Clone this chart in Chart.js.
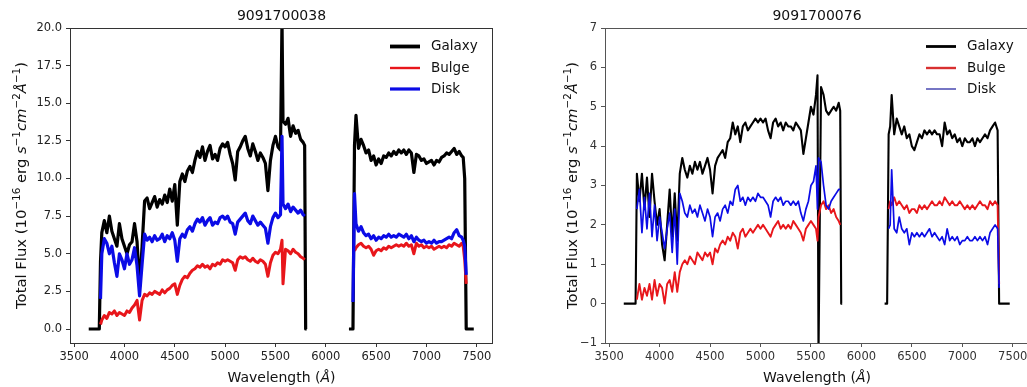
<!DOCTYPE html>
<html><head><meta charset="utf-8">
<script src="https://cdn.jsdelivr.net/npm/chart.js@4"></script>
<style>
html,body{margin:0;padding:0;background:#fff;overflow:hidden;width:1027px;height:387px;position:relative;}
#c1{position:absolute;left:0;top:0;}
#c2{position:absolute;left:515px;top:0;}
</style></head><body>
<canvas id="c1" width="515" height="387"></canvas>
<canvas id="c2" width="540" height="387"></canvas>
<script>
// ---------- DATA ----------
const panelTitles = ['9091700038', '9091700076'];
const seriesNames = ['Galaxy', 'Bulge', 'Disk'];
const xTicks = [3500, 4000, 4500, 5000, 5500, 6000, 6500, 7000, 7500];
const yTicksLeft = [0, 2.5, 5, 7.5, 10, 12.5, 15, 17.5, 20];
const yTicksRight = [-1, 0, 1, 2, 3, 4, 5, 6, 7];

const wavelength = [
  3645, 3700, 3750, 3762,
  3775, 3800, 3825, 3850, 3875, 3900, 3925, 3950, 3975, 4000,
  4025, 4050, 4075, 4100, 4125, 4150, 4175, 4200, 4225, 4250,
  4275, 4300, 4325, 4350, 4375, 4400, 4425, 4450, 4475, 4500,
  4525, 4550, 4575, 4600, 4625, 4650, 4675, 4700, 4725, 4750,
  4775, 4800, 4825, 4850, 4875, 4900, 4925, 4950, 4975, 5000,
  5025, 5050, 5075, 5100, 5125, 5150, 5175, 5200, 5225, 5250,
  5275, 5300, 5325, 5350, 5375, 5400, 5425, 5450, 5475, 5500,
  5525, 5550, 5565, 5575, 5600, 5625, 5650, 5675, 5700, 5725,
  5750, 5775, 5790, 5800, 5810,
  6000,
  6230, 6255, 6270, 6285,
  6300, 6325, 6350, 6375, 6400, 6425, 6450, 6475, 6500, 6525,
  6550, 6575, 6600, 6625, 6650, 6675, 6700, 6725, 6750, 6775,
  6800, 6825, 6850, 6875, 6900, 6925, 6950, 6975, 7000, 7025,
  7050, 7075, 7100, 7125, 7150, 7175, 7200, 7225, 7250, 7275,
  7300, 7325, 7350,
  7365, 7380, 7395, 7410, 7470
];

// Panel 1 (9091700038)
const galaxy1 = [
  0, 0, 0, 4.5,
  6.4, 7.2, 6.4, 7.5, 6.5, 6.0, 5.5, 7.0, 6.0, 5.5,
  5.0, 5.6, 5.8, 7.0, 5.8, 2.8, 5.5, 8.5, 8.7, 8.0,
  8.4, 8.8, 8.1, 8.6, 8.3, 8.9, 8.4, 9.3, 8.5, 9.6,
  6.9, 9.8, 10.3, 9.8, 10.5, 10.8, 10.4, 11.2, 11.8, 11.4,
  12.1, 11.2, 11.8, 12.2, 11.3, 11.6, 11.2, 12.0, 12.3, 12.1,
  12.4, 11.6, 11.0, 9.9, 11.8, 12.1, 12.5, 12.8, 12.0, 11.5,
  12.3, 11.8, 11.2, 11.7, 11.4, 11.0, 9.2, 11.2, 12.2, 12.8,
  12.1, 11.9, 20.5, 13.8, 13.6, 14.0, 12.8, 13.5, 13.0, 13.2,
  12.6, 12.4, 12.2, 0, 0,
  null,
  0, 0, 0, 12.2,
  14.2, 12.0, 12.6, 12.2, 11.7, 11.9, 11.2, 11.5, 10.9, 11.3,
  11.0, 11.5, 11.4, 11.7, 11.5, 11.8, 11.6, 11.9, 11.7, 11.9,
  11.6, 11.9, 11.7, 10.4, 11.6, 11.5, 11.2, 11.3, 11.0, 11.1,
  11.2, 10.9, 11.2, 11.1, 11.4, 11.5, 11.7, 11.6, 11.8, 12.0,
  11.6, 11.8, 11.5,
  11.4, 10.0, 0, 0, 0
];
const bulge1 = [
  null, null, null, 0.3,
  0.6, 0.9, 0.7, 1.1, 1.0, 1.2, 0.9, 1.1, 1.0, 0.9,
  1.2, 1.1, 1.4, 1.6, 1.9, 0.6, 1.9, 2.3, 2.2, 2.4,
  2.3, 2.5, 2.4, 2.3, 2.6, 2.4, 2.6, 2.7, 2.9, 3.0,
  2.3, 2.9, 3.3, 3.5, 3.4, 3.7, 3.9, 4.0, 4.2, 4.1,
  4.3, 4.1, 4.2, 4.0, 4.3, 4.2, 4.4, 4.3, 4.6, 4.5,
  4.6, 4.5, 4.4, 3.9, 4.6, 4.8, 4.7, 4.8, 4.6, 4.5,
  4.7, 4.5, 4.4, 4.6, 4.5, 4.3, 3.5, 4.4, 4.9, 5.1,
  5.0, 5.3, 5.9, 3.0, 5.3, 5.2, 5.0, 5.3, 5.1, 5.0,
  4.8, 4.7, 4.6, null, null,
  null,
  null, null, null, 5.2,
  5.4, 5.6, 5.7, 5.5, 5.4, 5.5, 5.3, 4.9, 5.2, 5.3,
  5.2, 5.4, 5.3, 5.5, 5.4, 5.5, 5.6, 5.5, 5.6, 5.5,
  5.7, 5.5, 5.6, 5.0, 5.7, 5.5, 5.6, 5.4, 5.5, 5.4,
  5.5, 5.3, 5.4, 5.5, 5.4, 5.5, 5.4, 5.6, 5.5, 5.7,
  5.6, 5.5, 5.7,
  5.5, 4.6, 3.0, null, null
];
const disk1 = [
  null, null, null, 2.0,
  5.0, 6.0, 5.7, 5.0, 5.5, 4.4, 3.5, 5.0, 4.6, 4.0,
  5.0, 4.3, 4.6, 5.4, 4.2, 2.2, 4.3, 6.3, 5.9, 6.1,
  5.8, 6.2, 5.9, 6.0, 6.3, 5.8, 6.2, 6.0, 6.4, 5.9,
  4.5, 6.0, 6.3, 6.1, 6.6, 6.8, 6.5, 7.0, 7.3, 7.1,
  7.4, 6.9, 7.2, 7.4, 6.9, 7.1, 7.0, 7.4, 7.5, 7.3,
  7.5, 7.1, 7.0, 6.3, 7.1, 7.3, 7.5, 7.7, 7.2, 7.0,
  7.5, 7.2, 6.9, 7.1, 6.9, 6.7, 5.7, 6.8, 7.4, 7.7,
  7.4, 7.6, 12.8, 8.3, 8.0, 8.3, 7.8, 8.1, 7.9, 7.7,
  7.9, 7.6, 7.5, null, null,
  null,
  null, null, 1.8, 9.0,
  7.0, 6.5, 6.8, 6.4, 6.2, 6.3, 6.0, 6.2, 5.9, 6.1,
  6.0, 6.2, 6.1, 6.3, 6.1, 6.2, 6.1, 6.3, 6.2, 6.1,
  6.3, 6.0, 6.2, 5.8, 6.1, 5.9, 5.8, 5.9, 5.7, 5.8,
  5.7, 5.9, 5.7, 5.8, 5.8, 5.9, 6.0, 6.1, 6.0, 6.4,
  6.6, 6.2, 6.1,
  5.9, 5.5, 3.6, null, null
];

// Panel 2 (9091700076)
const galaxy2 = [
  0, 0, 0, 0,
  3.3, 2.6, 3.3, 2.4, 3.2, 2.2, 3.3, 2.6, 2.0, 2.4,
  1.5, 1.1, 2.0, 2.9, 1.7, 2.8, 1.6, 3.3, 3.7, 3.4,
  3.2, 3.5, 3.3, 3.6, 3.4, 3.6, 3.3, 3.5, 3.7, 3.4,
  2.8, 3.5, 3.7, 3.8, 3.9, 3.7, 4.1, 4.2, 4.6, 4.3,
  4.5, 4.1, 4.5, 4.6, 4.4, 4.5, 4.6, 4.7, 4.6, 4.7,
  4.6, 4.7, 4.4, 4.2, 4.6, 4.7, 4.5, 4.6, 4.4, 4.6,
  4.5, 4.5, 4.4, 4.6, 4.5, 4.4, 3.8, 4.2, 4.6, 5.0,
  4.8, 5.3, 5.8, -1.3, 5.5, 5.3, 4.9, 4.8, 4.9, 5.0,
  4.9, 5.1, 4.9, 0, 0,
  null,
  0, 0, 4.3, 4.5,
  5.3, 4.3, 4.7, 4.5, 4.3, 4.5, 4.2, 4.3, 4.0, 3.9,
  4.1, 4.3, 4.2, 4.4, 4.3, 4.4, 4.3, 4.4, 4.3, 4.3,
  4.0, 4.6, 4.3, 4.4, 4.2, 4.3, 4.1, 4.2, 4.0, 4.2,
  4.1, 4.1, 4.2, 4.0, 4.2, 4.1, 4.2, 4.3, 4.2, 4.4,
  4.5, 4.6, 4.4,
  0, 0, 0, 0, 0
];
const bulge2 = [
  null, null, null, null,
  0.1, 0.5, 0.1, 0.4, 0.2, 0.5, 0.1, 0.6, 0.2, 0.5,
  0.4, 0.0, 0.5, 0.6, 0.3, 0.8, 0.3, 0.8, 1.0, 1.1,
  1.0, 1.2, 1.1, 1.0, 1.3, 1.2, 1.1, 1.3, 1.2, 1.3,
  1.0, 1.4, 1.3, 1.5, 1.6, 1.5, 1.7, 1.6, 1.8, 1.7,
  1.4, 1.8, 1.9, 1.7, 1.8, 1.9, 1.8, 1.9, 2.0, 1.9,
  2.0, 1.9, 1.8, 1.7, 1.9, 2.0, 2.1, 1.9, 2.0, 1.9,
  2.0, 1.9, 2.1, 2.0, 1.9, 1.8, 1.6, 1.9, 2.0, 2.1,
  2.0, 1.9, 1.6, 2.2, 2.5, 2.6, 2.4, 2.5, 2.3, 2.4,
  2.2, 2.1, 2.0, null, null,
  null,
  null, null, 2.4, 2.6,
  2.5, 2.7, 2.5, 2.6, 2.5, 2.4, 2.5, 2.3, 2.4, 2.4,
  2.3, 2.5, 2.4, 2.5, 2.4, 2.5, 2.6, 2.5, 2.5, 2.6,
  2.5, 2.7, 2.6, 2.5, 2.6, 2.5, 2.5, 2.6, 2.5, 2.4,
  2.5, 2.4, 2.5, 2.4, 2.5, 2.6, 2.5, 2.5, 2.4, 2.6,
  2.5, 2.6, 2.5,
  0.5, null, null, null, null
];
const disk2 = [
  null, null, null, null,
  2.4, 2.9, 1.8, 2.7, 1.9, 2.8, 1.7, 2.5, 1.6, 2.2,
  1.8, 1.4, 1.9, 2.3, 1.3, 2.4, 1.0, 2.8, 2.6, 2.3,
  2.2, 2.5, 2.3, 2.4, 2.2, 2.5, 2.3, 2.1, 2.4, 2.2,
  1.7, 2.2, 2.3, 2.1, 2.4, 2.5, 2.3, 2.6, 2.5, 2.9,
  3.0, 2.6, 2.7, 2.5, 2.7, 2.6, 2.7, 2.6, 2.8, 2.7,
  2.7, 2.6, 2.5, 2.2, 2.6, 2.7, 2.6, 2.7, 2.5, 2.6,
  2.6, 2.5, 2.6, 2.5, 2.6, 2.3, 2.1, 2.4, 2.6, 3.0,
  3.1, 3.5, 2.4, 3.7, 3.6, 3.0, 2.5, 2.4, 2.6, 2.7,
  2.8, 2.9, 2.9, null, null,
  null,
  null, null, 1.9, 2.0,
  3.4, 1.9, 1.8, 2.2, 1.9, 1.8, 1.9, 1.5, 1.8, 1.7,
  1.8, 1.7, 1.8, 1.7, 1.8, 1.9, 1.7, 1.8, 1.7, 1.6,
  1.7, 1.5, 1.9, 1.6, 1.7, 1.6, 1.7, 1.5, 1.6, 1.6,
  1.7, 1.6, 1.6, 1.7, 1.6, 1.7, 1.6, 1.7, 1.5, 1.8,
  1.9, 2.0, 1.9,
  0.4, null, null, null, null
];

const xLabelParts = [['Wavelength (', 'n'], ['Å', 'i'], [')', 'n']];
const yLabelParts = [['Total Flux (10', 'n'], ['\u221216', 's'], [' erg ', 'n'], ['s', 'i'], ['\u22121', 's'],
                     ['cm', 'i'], ['\u22122', 's'], ['Å', 'i'], ['\u22121', 's'], [')', 'n']];

// ---------- STYLE ----------
const FONT = '"DejaVu Sans"';
const RED = '#e8161b';
const BLUE = '#0b0be6';
const X_MIN = 3459, X_MAX = 7661;

function toPts(vals) {
  return wavelength.map((x, i) => ({ x: x, y: (vals[i] === undefined ? null : vals[i]) }));
}

function drawRich(ctx, parts, size, color) {
  const fonts = { n: size + 'px ' + FONT, i: 'italic ' + size + 'px ' + FONT, s: (size * 0.7).toFixed(2) + 'px ' + FONT };
  let w = 0;
  for (const [t, k] of parts) { ctx.font = fonts[k]; w += ctx.measureText(t).width; }
  let x = -w / 2;
  ctx.fillStyle = color;
  ctx.textAlign = 'left';
  ctx.textBaseline = 'alphabetic';
  const base = size * 0.36;
  for (const [t, k] of parts) {
    ctx.font = fonts[k];
    ctx.fillText(t, x, k === 's' ? base - size * 0.42 : base);
    x += ctx.measureText(t).width;
  }
}

const decor = {
  id: 'decor',
  afterDraw(chart, args, o) {
    const ctx = chart.ctx, a = chart.chartArea;
    ctx.save();
    // frame
    ctx.strokeStyle = o.frame; ctx.lineWidth = 1;
    ctx.strokeRect(Math.round(a.left) + 0.5, Math.round(a.top) + 0.5,
                   Math.round(a.right - a.left) - 1, Math.round(a.bottom - a.top));
    // title
    ctx.fillStyle = '#111';
    ctx.font = '14px ' + FONT;
    ctx.textAlign = 'center'; ctx.textBaseline = 'middle';
    ctx.fillText(o.title, (a.left + a.right) / 2, 16);
    // legend
    for (let i = 0; i < 3; i++) {
      const y = a.top + o.legY[i];
      ctx.strokeStyle = o.legColors[i]; ctx.lineWidth = o.legLw[i];
      ctx.beginPath(); ctx.moveTo(a.right - 103, y); ctx.lineTo(a.right - 73, y); ctx.stroke();
      ctx.fillStyle = '#111'; ctx.font = '13.5px ' + FONT;
      ctx.textAlign = 'left'; ctx.textBaseline = 'middle';
      ctx.fillText(seriesNames[i], a.right - 62, y);
    }
    // x label
    ctx.save();
    ctx.translate((a.left + a.right) / 2, 377);
    drawRich(ctx, xLabelParts, 14, '#111');
    ctx.restore();
    // y label
    ctx.save();
    ctx.translate(o.yLabelX, (a.top + a.bottom) / 2);
    ctx.rotate(-Math.PI / 2);
    drawRich(ctx, yLabelParts, 14.8, '#111');
    ctx.restore();
    ctx.restore();
  }
};

function ds(label, vals, color, lw, order) {
  return { label: label, data: toPts(vals), borderColor: color, backgroundColor: color,
           borderWidth: lw, order: order, pointRadius: 0, fill: false, clip: 0,
           borderJoinStyle: 'round', tension: 0 };
}

function build(id, p) {
  const tickFont = { family: 'DejaVu Sans', size: 11.5 };
  return new Chart(document.getElementById(id), {
    type: 'line',
    data: { datasets: [
      ds(seriesNames[0], p.gal, '#000000', p.lw[0], 3),
      ds(seriesNames[1], p.bul, RED, p.lw[1], 2),
      ds(seriesNames[2], p.disk, BLUE, p.lw[2], 1)
    ] },
    options: {
      responsive: false, animation: false, devicePixelRatio: 1, events: [],
      layout: { padding: { left: 0, right: p.padRight, top: 28, bottom: 0 } },
      elements: { point: { radius: 0, hoverRadius: 0 }, line: { tension: 0 } },
      plugins: {
        legend: { display: false }, tooltip: { enabled: false },
        decor: { title: p.title, frame: p.frame, yLabelX: p.yLabelX,
                 legY: [18.5, 40, 61], legLw: p.legLw, legColors: p.legColors }
      },
      scales: {
        x: {
          type: 'linear', min: X_MIN, max: X_MAX,
          afterBuildTicks: s => { s.ticks = xTicks.map(v => ({ value: v })); },
          afterFit: s => { s.height = 44; },
          ticks: { autoSkip: false, maxRotation: 0, minRotation: 0, padding: 3, color: p.tickColor,
                   font: tickFont, callback: v => String(v) },
          grid: { drawOnChartArea: false, drawTicks: true, tickLength: 4, tickColor: p.frame, tickWidth: 1 },
          border: { display: false }
        },
        y: {
          type: 'linear', min: p.yMin, max: p.yMax,
          afterBuildTicks: s => { s.ticks = p.yTicks.map(v => ({ value: v })); },
          afterFit: s => { s.width = p.yAxisWidth; },
          ticks: { autoSkip: false, padding: 4, color: p.tickColor, font: tickFont, callback: p.fmt },
          grid: { drawOnChartArea: false, drawTicks: true, tickLength: 4, tickColor: p.frame, tickWidth: 1 },
          border: { display: false }
        }
      }
    },
    plugins: [decor]
  });
}

build('c1', {
  title: panelTitles[0], gal: galaxy1, bul: bulge1, disk: disk1,
  lw: [3.2, 3, 3.2], legLw: [3.8, 2.4, 3.2], legColors: ['#000000', RED, BLUE],
  yMin: -0.93, yMax: 20, yTicks: yTicksLeft, fmt: v => Number(v).toFixed(1),
  yAxisWidth: 70, padRight: 22, frame: '#333', tickColor: '#222', yLabelX: 21
});
build('c2', {
  title: panelTitles[1], gal: galaxy2, bul: bulge2, disk: disk2,
  lw: [2.1, 1.9, 1.7], legLw: [2.8, 2.4, 1.5], legColors: ['#000000', '#d83030', '#4848b0'],
  yMin: -1, yMax: 7, yTicks: yTicksRight, fmt: v => (v < 0 ? '\u2212' + Math.abs(v) : String(v)),
  yAxisWidth: 90, padRight: 26, frame: '#555', tickColor: '#333', yLabelX: 57
});
</script>
</body></html>
